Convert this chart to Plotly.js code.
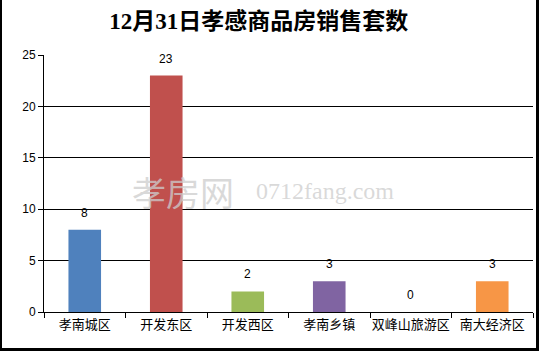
<!DOCTYPE html>
<html>
<head>
<meta charset="utf-8">
<script src="https://cdn.plot.ly/plotly-3.0.1.min.js"></script>
<style>
  html, body { margin: 0; padding: 0; background: #fff; }
  #wrap { position: relative; width: 539px; height: 351px; }
  #chart { width: 539px; height: 351px; }
  #frame { position: absolute; left: 0; top: 0; width: 539px; height: 351px; box-sizing: border-box;
           border-left: 2px solid #000; border-right: 3px solid #000; border-bottom: 3px solid #000;
           pointer-events: none; }
</style>
</head>
<body>
<div id="wrap"><div id="chart"></div><div id="frame"></div></div>
<script>
const categories = ["孝南城区", "开发东区", "开发西区", "孝南乡镇", "双峰山旅游区", "南大经济区"];
const values = [8, 23, 2, 3, 0, 3];
const barColors = ["#4F81BD", "#C0504D", "#9BBB59", "#8064A2", "#4BACC6", "#F79646"];
const yTicks = [0, 5, 10, 15, 20, 25];
const titleText = "12月31日孝感商品房销售套数";

const trace = {
  type: "bar",
  x: categories,
  y: values,
  marker: { color: barColors, line: { width: 0 } },
  hoverinfo: "none"
};

const labelAnnotations = categories.map((c, i) => ({
  x: c, y: values[i], xref: "x", yref: "y",
  text: String(values[i]), showarrow: false,
  yanchor: "bottom", yshift: 8,
  font: { family: "Liberation Sans, Arial, sans-serif", size: 12, color: "#000" }
}));

const watermark = [
  { xref: "paper", yref: "paper", x: 0.175, y: 0.47, xanchor: "left", yanchor: "middle",
    text: "孝房网", showarrow: false,
    font: { family: "Noto Sans CJK SC, sans-serif", size: 34, color: "rgba(205,205,205,0.75)" } },
  { xref: "paper", yref: "paper", x: 0.43, y: 0.47, xanchor: "left", yanchor: "middle",
    text: "0712fang.com", showarrow: false,
    font: { family: "Liberation Serif, serif", size: 24, color: "rgba(205,205,205,0.75)" } }
];

const layout = {
  width: 539, height: 351,
  margin: { l: 44, r: 6, t: 55, b: 39 },
  paper_bgcolor: "#fff", plot_bgcolor: "#fff",
  showlegend: false,
  bargap: 0.6,
  title: {
    text: titleText,
    x: 0.48, xanchor: "center",
    y: 1 - 21 / 351, yanchor: "middle", yref: "container",
    font: { family: "Liberation Serif, Noto Sans CJK SC, serif", size: 23, color: "#000", weight: "bold" }
  },
  xaxis: {
    type: "category",
    showline: true, linecolor: "#000", linewidth: 1,
    ticks: "outside", tickson: "boundaries", ticklen: 5, tickcolor: "#000",
    tickangle: 0,
    showgrid: false, zeroline: false,
    tickfont: { family: "Noto Sans CJK SC, sans-serif", size: 13, color: "#000" }
  },
  yaxis: {
    range: [0, 25], tickvals: yTicks, ticktext: yTicks.map(String),
    showline: true, linecolor: "#000", linewidth: 1,
    ticks: "outside", ticklen: 5, tickcolor: "#000",
    showgrid: true, gridcolor: "#000", gridwidth: 1,
    zeroline: false,
    tickfont: { family: "Liberation Sans, Arial, sans-serif", size: 12, color: "#000" }
  },
  annotations: labelAnnotations.concat(watermark)
};

Plotly.newPlot("chart", [trace], layout, { displayModeBar: false, staticPlot: true });
</script>
</body>
</html>
